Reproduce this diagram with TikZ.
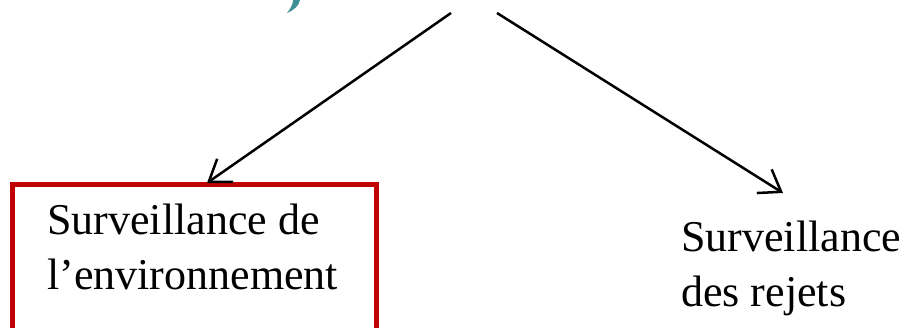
\documentclass[tikz,border=0pt]{standalone}
\usepackage{fontspec}
\setmainfont{Liberation Serif}
\usetikzlibrary{arrows.meta}
\definecolor{boxred}{HTML}{C00000}
\definecolor{titleteal}{HTML}{3F8F96}
\tikzset{
  leaf/.style={font=\fontsize{44}{55}\selectfont, align=left, inner sep=0pt, anchor=base west},
  branch/.style={line width=2.5pt, -{Straight Barb[length=20pt,width=28pt]}},
}
\begin{document}
\begin{tikzpicture}[x=1pt, y=-1pt]
    \useasboundingbox (0,0) rectangle (908,328);
    % bit of the title letter, cut off by the top edge
    \fill[titleteal] (300,0) .. controls (299,6) and (294,10) .. (287,13)
        .. controls (291,8) and (293,4) .. (293,0) -- cycle;
    \coordinate (top1) at (451,13);
    \coordinate (top2) at (497,13);
    \coordinate (end1) at (207,183);
    \coordinate (end2) at (783,193);
    \draw[boxred, line width=5pt] (12,185) rectangle (376,345);
    % base anchor sits on the last line
    \node[leaf] (env) at (47,290) {Surveillance de\\l'environnement};
    \node[leaf] (rej) at (681,307) {Surveillance\\des rejets};
    \draw[branch] (top1) -- (end1);
    \draw[branch] (top2) -- (end2);
\end{tikzpicture}
\end{document}
